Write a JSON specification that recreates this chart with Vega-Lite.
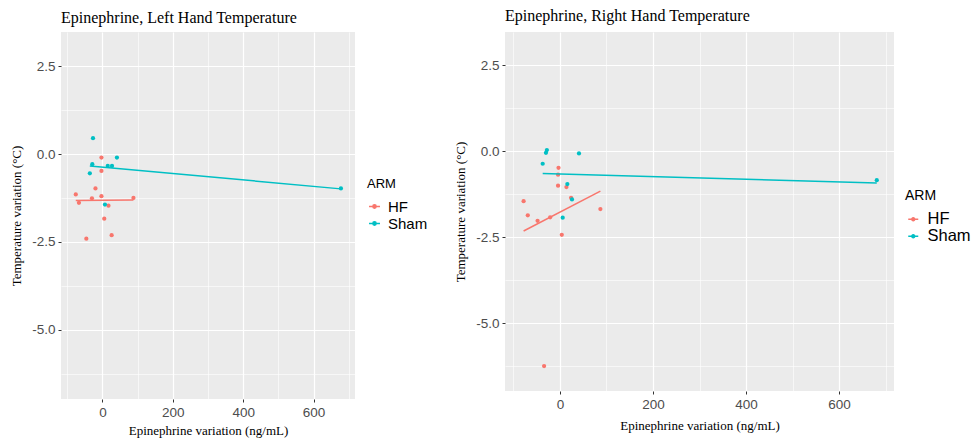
{
  "$schema": "https://vega.github.io/schema/vega-lite/v6.json",
  "background": "white",
  "padding": {"left": 10, "top": 8, "right": 2, "bottom": 2},
  "datasets": {
    "pts": [
      {"panel": "Left", "ARM": "HF", "x": -3, "y": -0.1},
      {"panel": "Left", "ARM": "HF", "x": -3, "y": -0.48},
      {"panel": "Left", "ARM": "HF", "x": -20, "y": -0.98},
      {"panel": "Left", "ARM": "HF", "x": -76, "y": -1.15},
      {"panel": "Left", "ARM": "HF", "x": -67, "y": -1.39},
      {"panel": "Left", "ARM": "HF", "x": -30, "y": -1.26},
      {"panel": "Left", "ARM": "HF", "x": -3, "y": -1.2},
      {"panel": "Left", "ARM": "HF", "x": 88, "y": -1.25},
      {"panel": "Left", "ARM": "HF", "x": 17, "y": -1.47},
      {"panel": "Left", "ARM": "HF", "x": 5, "y": -1.84},
      {"panel": "Left", "ARM": "HF", "x": -46, "y": -2.41},
      {"panel": "Left", "ARM": "HF", "x": 26, "y": -2.31},
      {"panel": "Left", "ARM": "Sham", "x": -27, "y": 0.45},
      {"panel": "Left", "ARM": "Sham", "x": 41, "y": -0.1},
      {"panel": "Left", "ARM": "Sham", "x": -29, "y": -0.29},
      {"panel": "Left", "ARM": "Sham", "x": 15, "y": -0.34},
      {"panel": "Left", "ARM": "Sham", "x": 27, "y": -0.34},
      {"panel": "Left", "ARM": "Sham", "x": -36, "y": -0.55},
      {"panel": "Left", "ARM": "Sham", "x": 7, "y": -1.44},
      {"panel": "Left", "ARM": "Sham", "x": 678, "y": -0.98},
      {"panel": "Right", "ARM": "HF", "x": -3, "y": -0.48},
      {"panel": "Right", "ARM": "HF", "x": -4, "y": -0.68},
      {"panel": "Right", "ARM": "HF", "x": -4, "y": -1.0},
      {"panel": "Right", "ARM": "HF", "x": 14, "y": -1.04},
      {"panel": "Right", "ARM": "HF", "x": 24, "y": -1.35},
      {"panel": "Right", "ARM": "HF", "x": -78, "y": -1.45},
      {"panel": "Right", "ARM": "HF", "x": 87, "y": -1.68},
      {"panel": "Right", "ARM": "HF", "x": -69, "y": -1.86},
      {"panel": "Right", "ARM": "HF", "x": -48, "y": -2.02},
      {"panel": "Right", "ARM": "HF", "x": -21, "y": -1.92},
      {"panel": "Right", "ARM": "HF", "x": 4, "y": -2.43},
      {"panel": "Right", "ARM": "HF", "x": -34, "y": -6.25},
      {"panel": "Right", "ARM": "Sham", "x": -28, "y": 0.04},
      {"panel": "Right", "ARM": "Sham", "x": -30, "y": -0.04},
      {"panel": "Right", "ARM": "Sham", "x": 41, "y": -0.06},
      {"panel": "Right", "ARM": "Sham", "x": -37, "y": -0.36},
      {"panel": "Right", "ARM": "Sham", "x": 16, "y": -0.95},
      {"panel": "Right", "ARM": "Sham", "x": 26, "y": -1.4},
      {"panel": "Right", "ARM": "Sham", "x": 6, "y": -1.93},
      {"panel": "Right", "ARM": "Sham", "x": 681, "y": -0.84}
    ]
  },
  "config": {
    "view": {"fill": "#EBEBEB", "stroke": null},
    "font": "Liberation Sans",
    "title": {"font": "Liberation Serif", "fontSize": 16, "fontWeight": "normal", "color": "#000000", "anchor": "start", "frame": "group", "offset": 6},
    "axis": {
      "domain": false, "gridColor": "#FFFFFF", "gridWidth": 1.2,
      "tickColor": "#333333", "tickSize": 3, "tickWidth": 1,
      "labelColor": "#4D4D4D", "labelFont": "Liberation Sans", "labelFontSize": 13.5, "labelPadding": 3,
      "titleFont": "Liberation Serif", "titleFontSize": 13, "titleFontWeight": "normal", "titleColor": "#000000"
    },
    "legend": {
      "orient": "none",
      "titleFont": "Liberation Sans", "titleFontSize": 13, "titleFontWeight": "normal", "titleColor": "#000000", "titlePadding": 8,
      "labelFont": "Liberation Sans", "labelFontSize": 15, "labelColor": "#000000", "labelOffset": 6,
      "symbolType": "M-1,0H1M-0.3,0A0.3,0.3,0,1,1,0.3,0A0.3,0.3,0,1,1,-0.3,0Z",
      "symbolSize": 120, "symbolStrokeWidth": 1.5, "rowPadding": 1
    }
  },
  "spacing": 26,
  "resolve": {"legend": {"color": "independent"}, "scale": {"color": "independent"}},
  "hconcat": [
    {
      "width": 294, "height": 367,
      "title": "Epinephrine, Left Hand Temperature",
      "data": {"name": "pts"},
      "transform": [{"filter": "datum.panel === 'Left'"}],
      "layer": [
        {
          "mark": {"type": "point", "filled": true, "opacity": 1, "size": 18},
          "encoding": {
            "x": {"field": "x", "type": "quantitative", "scale": {"domain": [-118, 718], "nice": false, "zero": false}, "axis": {"values": [0, 200, 400, 600], "title": "Epinephrine variation (ng/mL)", "labelFlush": false, "titlePadding": 6}},
            "y": {"field": "y", "type": "quantitative", "scale": {"domain": [-6.975, 3.475], "nice": false, "zero": false}, "axis": {"values": [-5, -2.5, 0, 2.5], "labelExpr": "replace(format(datum.value, '.1f'), '−', '-')", "title": "Temperature variation (°C)", "titlePadding": 8}},
            "color": {"field": "ARM", "type": "nominal", "scale": {"domain": ["HF", "Sham"], "range": ["#F8766D", "#00BFC4"]}, "legend": {"title": "ARM", "legendX": 306, "legendY": 146}}
          }
        },
        {
          "transform": [{"regression": "y", "on": "x", "groupby": ["ARM"]}],
          "mark": {"type": "line", "strokeWidth": 1.5},
          "encoding": {
            "x": {"field": "x", "type": "quantitative", "axis": {"orient": "bottom", "values": [-100, 100, 300, 500, 700], "grid": true, "gridWidth": 0.6, "labels": false, "ticks": false, "domain": false, "title": null}},
            "y": {"field": "y", "type": "quantitative", "axis": {"orient": "left", "values": [-6.25, -3.75, -1.25, 1.25], "grid": true, "gridWidth": 0.6, "labels": false, "ticks": false, "domain": false, "title": null}},
            "color": {"field": "ARM", "type": "nominal"}
          }
        }
      ],
      "resolve": {"axis": {"x": "independent", "y": "independent"}}
    },
    {
      "width": 389, "height": 359,
      "title": {"text": "Epinephrine, Right Hand Temperature", "offset": 8},
      "data": {"name": "pts"},
      "transform": [{"filter": "datum.panel === 'Right'"}],
      "layer": [
        {
          "mark": {"type": "point", "filled": true, "opacity": 1, "size": 18},
          "encoding": {
            "x": {"field": "x", "type": "quantitative", "scale": {"domain": [-118, 718], "nice": false, "zero": false}, "axis": {"values": [0, 200, 400, 600], "title": "Epinephrine variation (ng/mL)", "labelFlush": false, "titlePadding": 9}},
            "y": {"field": "y", "type": "quantitative", "scale": {"domain": [-6.975, 3.475], "nice": false, "zero": false}, "axis": {"values": [-5, -2.5, 0, 2.5], "labelExpr": "replace(format(datum.value, '.1f'), '−', '-')", "title": "Temperature variation (°C)", "titlePadding": 8}},
            "color": {"field": "ARM", "type": "nominal", "scale": {"domain": ["HF", "Sham"], "range": ["#F8766D", "#00BFC4"]}, "legend": {"title": "ARM", "legendX": 400, "legendY": 157, "labelFontSize": 16.5, "rowPadding": 0, "symbolSize": 100, "titleFontSize": 14}}
          }
        },
        {
          "transform": [{"regression": "y", "on": "x", "groupby": ["ARM"]}],
          "mark": {"type": "line", "strokeWidth": 1.5},
          "encoding": {
            "x": {"field": "x", "type": "quantitative", "axis": {"orient": "bottom", "values": [-100, 100, 300, 500, 700], "grid": true, "gridWidth": 0.6, "labels": false, "ticks": false, "domain": false, "title": null}},
            "y": {"field": "y", "type": "quantitative", "axis": {"orient": "left", "values": [-6.25, -3.75, -1.25, 1.25], "grid": true, "gridWidth": 0.6, "labels": false, "ticks": false, "domain": false, "title": null}},
            "color": {"field": "ARM", "type": "nominal"}
          }
        }
      ],
      "resolve": {"axis": {"x": "independent", "y": "independent"}}
    }
  ]
}
